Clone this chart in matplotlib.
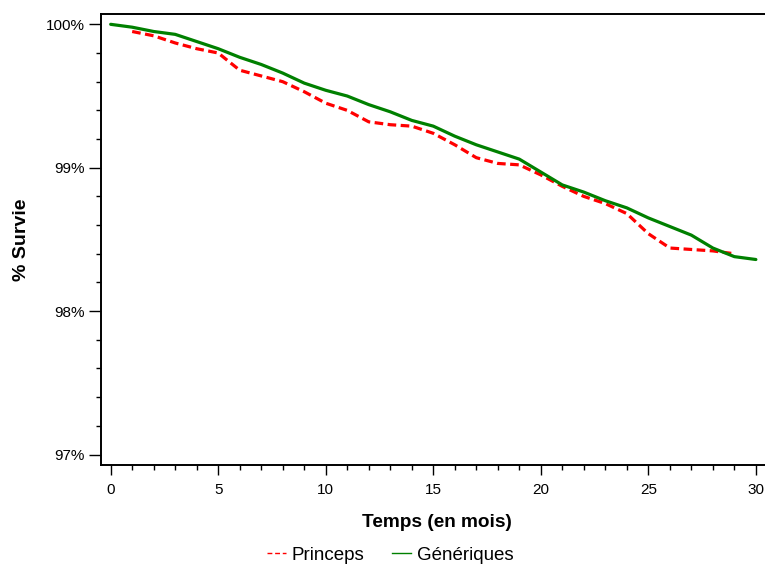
import numpy as np
import matplotlib
matplotlib.use("Agg")
import matplotlib.pyplot as plt
from matplotlib.lines import Line2D
from matplotlib.ticker import MultipleLocator, FuncFormatter

plt.rcParams['font.family'] = 'Liberation Sans'

# survie par mois
mois_gen = list(range(0, 31))
survie_gen = [100.00, 99.98, 99.95, 99.93, 99.88, 99.83, 99.77, 99.72, 99.66, 99.59,
              99.54, 99.50, 99.44, 99.39, 99.33, 99.29, 99.22, 99.16, 99.11, 99.06,
              98.97, 98.88, 98.83, 98.77, 98.72, 98.65, 98.59, 98.53, 98.44, 98.38,
              98.36]

mois_pri = list(range(1, 30))
survie_pri = [99.95, 99.92, 99.87, 99.83, 99.80, 99.68, 99.64, 99.60, 99.53, 99.45,
              99.40, 99.32, 99.30, 99.29, 99.24, 99.16, 99.07, 99.03, 99.02, 98.95,
              98.87, 98.80, 98.75, 98.68, 98.54, 98.44, 98.43, 98.42, 98.40]

y_ticks = [97, 98, 99, 100]
x_ticks = [0, 5, 10, 15, 20, 25, 30]

fig = plt.figure(figsize=(7.65, 5.64), dpi=100)
W, H = 765, 564
# le cadre déborde à droite (bord droit hors image, comme l'original)
ax = fig.add_axes([101 / W, (H - 465) / H, (772 - 101) / W, (465 - 14) / H])

rouge = '#ff0000'
vert = '#008000'

ax.plot(mois_pri, survie_pri, color=rouge, lw=2.3, linestyle=(0, (2.7, 1.4)))
ax.plot(mois_gen, survie_gen, color=vert, lw=2.3, solid_capstyle='round')

ax.set_xlim(-0.45, 30.75)
ax.set_ylim(96.927, 100.072)

ax.set_xticks(x_ticks)
ax.xaxis.set_minor_locator(MultipleLocator(1))
ax.set_yticks(y_ticks)
ax.yaxis.set_minor_locator(MultipleLocator(0.2))
ax.yaxis.set_major_formatter(FuncFormatter(lambda v, p: f"{v:.0f}%"))

ax.tick_params(axis='both', which='major', length=8.5, width=1, labelsize=11)
ax.tick_params(axis='both', which='minor', length=3.6, width=1)
ax.tick_params(axis='x', which='major', pad=6, length=7.2)
ax.tick_params(axis='y', which='major', pad=3)

for s in ax.spines.values():
    s.set_linewidth(1.4)

ax.set_xlabel("Temps (en mois)", fontsize=13.7, fontweight='bold', labelpad=12)
ax.set_ylabel("% Survie", fontsize=14, fontweight='bold')
ax.yaxis.set_label_coords(-(101 - 30) / (772 - 101), 0.5)

handles = [Line2D([], [], color=rouge, lw=1, linestyle=(0, (3.5, 2))),
           Line2D([], [], color=vert, lw=1)]
fig.legend(handles, ["Princeps", "Génériques"], loc='center',
           bbox_to_anchor=(390 / W, 1 - 555 / H), ncol=2, frameon=False,
           fontsize=13.5, handlelength=1.0, handletextpad=0.3, columnspacing=1.5)

fig.savefig("out.png", dpi=100)
